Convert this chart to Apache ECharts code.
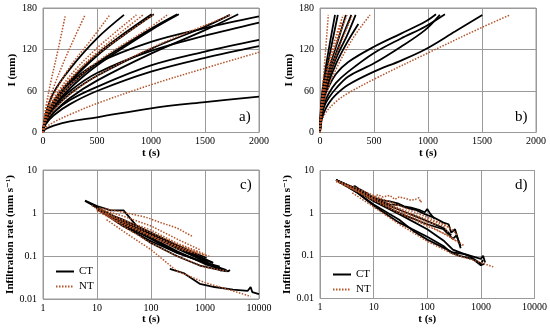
<!DOCTYPE html>
<html><head><meta charset="utf-8">
<script src="https://cdn.jsdelivr.net/npm/echarts@6/dist/echarts.min.js"></script>
<style>html,body{margin:0;padding:0;background:#fff}#c{width:550px;height:330px}</style>
</head><body><div id="c"></div>
<script>
// ---------- Tick labels ----------
const linTicksX = [0, 500, 1000, 1500, 2000];
const linTicksY = [0, 60, 120, 180];
const logTicksX = [1, 10, 100, 1000, 10000];
const logTicksY = [0.01, 0.1, 1, 10];
const legendNames = ['CT', 'NT'];
const panelLabels = ['a)', 'b)', 'c)', 'd)'];

// ---------- Panel a: cumulative infiltration I (mm) vs t (s) ----------
const aCT1 = [[0,0],[25,27],[100,58],[250,92],[500,136],[750,170]];
const aCT2 = [[0,0],[25,22],[100,46],[250,75],[500,113],[750,143],[1005,171]];
const aCT3 = [[0,0],[25,21],[100,45],[250,73],[500,111],[750,141],[1026,171]];
const aCT4 = [[0,0],[25,20],[100,41],[250,68],[500,100],[1000,150],[1243,171]];
const aCT5 = [[0,0],[25,18],[100,38],[250,64],[500,97],[1000,148],[1258,171]];
const aCT6 = [[0,0],[25,17],[100,34],[250,56],[500,82],[1000,121],[1500,153],[1731,170]];
const aCT7 = [[0,0],[25,14],[100,29],[250,50],[500,75],[1000,114],[1500,148],[1808,171]];
const aCT8 = [[0,0],[25,22],[100,45],[250,72],[500,100],[1000,131],[1500,151],[2000,168]];
const aCT9 = [[0,0],[25,18],[100,37],[250,60],[500,86],[1000,118],[1500,140],[2000,159]];
const aCT10 = [[0,0],[25,14],[100,29],[250,47],[500,66],[1000,97],[1500,117],[2000,134]];
const aCT11 = [[0,0],[25,12],[100,25],[250,41],[500,60],[1000,88],[1500,108],[2000,125]];
const aCT12 = [[0,0],[25,5],[100,10],[250,16],[500,22],[1000,35],[1500,44],[2000,52]];
const aNT1 = [[0,0],[10,20],[30,40],[75,75],[140,120],[205,168]];
const aNT2 = [[0,0],[10,18],[30,33],[100,66],[200,105],[300,140],[390,170]];
const aNT3 = [[0,0],[25,28],[100,55],[250,95],[450,135],[618,170]];
const aNT4 = [[0,0],[25,25],[100,49],[250,82],[500,122],[865,170]];
const aNT5 = [[0,0],[25,22],[100,44],[250,76],[500,116],[927,170]];
const aNT6 = [[0,0],[25,24],[100,47],[250,78],[500,113],[1020,170]];
const aNT7 = [[0,0],[25,20],[100,40],[250,68],[500,102],[1000,153],[1159,171]];
const aNT8 = [[0,0],[25,16],[100,32],[250,55],[500,82],[1000,122],[1500,155],[1744,170]];
const aNT9 = [[0,0],[25,7],[100,15],[250,26],[500,42],[1000,69],[1500,93],[2000,116]];

// ---------- Panel b ----------
const bCT1 = [[0,0],[15,30],[40,50],[80,66],[150,85],[262,102],[500,124],[750,143],[972,160],[1074,171]];
const bCT2 = [[0,0],[15,25],[40,42],[80,56],[150,72],[262,88],[500,115],[750,136],[972,153],[1157,171]];
const bCT3 = [[0,0],[15,22],[40,38],[80,50],[150,64],[262,81],[500,100],[750,124],[972,148],[1110,170]];
const bCT4 = [[0,0],[15,18],[40,30],[80,42],[150,55],[262,69],[500,88],[750,104],[972,120],[1250,146],[1503,170]];
const bCT5 = [[0,0],[10,40],[30,70],[70,110],[139,170]];
const bCT6 = [[0,0],[10,35],[30,62],[80,105],[165,170]];
const bCT7 = [[0,0],[10,30],[30,55],[80,90],[150,125],[240,170]];
const bCT8 = [[0,0],[10,28],[30,50],[80,82],[150,115],[290,170]];
const bCT9 = [[0,0],[10,27],[30,48],[80,78],[150,108],[250,140],[330,170]];
const bCT10 = [[0,0],[10,25],[30,45],[80,72],[150,100],[250,130],[355,157]];
const bNT1 = [[0,0],[15,15],[50,28],[150,45],[262,57],[500,77],[1000,115],[1500,152],[1760,170]];
const bNT2 = [[0,0],[5,25],[20,55],[45,105],[77,170]];
const bNT3 = [[0,0],[10,32],[30,60],[80,100],[150,140],[215,170]];
const bNT4 = [[0,0],[10,30],[30,55],[80,92],[150,128],[250,170]];
const bNT5 = [[0,0],[10,26],[30,48],[80,80],[150,112],[300,170]];
const bNT6 = [[0,0],[10,22],[30,40],[80,66],[150,92],[300,135],[463,170]];
const bNT7 = [[0,0],[10,34],[30,58],[80,95],[150,132],[200,160]];

// ---------- Panel c: infiltration rate (mm s-1) vs t (s), log-log ----------
const cCT1 = [[6,1.95],[10,1.45],[18,1.15],[31,1.15],[54,0.5],[100,0.33],[300,0.17],[1000,0.085],[1400,0.07]];
const cCT2 = [[6,1.9],[10,1.35],[30,0.65],[100,0.3],[300,0.15],[1000,0.075],[2030,0.045]];
const cCT3 = [[8,1.6],[10,1.3],[30,0.6],[100,0.27],[300,0.13],[1000,0.065],[2700,0.044],[2900,0.047]];
const cCT4 = [[10,1.3],[30,0.55],[100,0.25],[300,0.12],[1000,0.07],[1880,0.057]];
const cCT5 = [[10,1.25],[30,0.5],[100,0.22],[300,0.12],[1000,0.07],[2500,0.047]];
const cCT6 = [[12,1.1],[30,0.6],[100,0.32],[300,0.16],[1000,0.08],[1420,0.068]];
const cCT7 = [[10,1.2],[30,0.7],[100,0.35],[300,0.18],[1070,0.09]];
const cCT8 = [[223,0.05],[400,0.04],[800,0.0225],[1500,0.019],[3300,0.0165],[6200,0.0155],[7000,0.019],[7500,0.0145],[10000,0.013]];
const cCT9 = [[20,0.8],[100,0.2],[300,0.1],[800,0.06],[2500,0.044]];
const cNT1 = [[11,1.3],[20,1.15],[35,1.0],[80,0.8],[150,0.6],[300,0.45],[600,0.28]];
const cNT2 = [[12,1.2],[30,0.85],[100,0.5],[300,0.25],[800,0.14]];
const cNT3 = [[10,1.3],[30,0.7],[100,0.4],[300,0.2],[1000,0.11]];
const cNT4 = [[10,1.2],[30,0.65],[100,0.35],[300,0.19],[1100,0.1]];
const cNT5 = [[15,0.95],[30,0.6],[100,0.3],[300,0.17],[700,0.12]];
const cNT6 = [[10,1.1],[30,0.55],[100,0.28],[300,0.15],[600,0.12]];
const cNT7 = [[15,0.7],[40,0.3],[100,0.14],[300,0.045],[1000,0.024],[3000,0.016],[7000,0.0115]];
const cNT8 = [[8,1.5],[30,0.5],[100,0.2],[300,0.1],[1000,0.055],[2500,0.045]];
const cNT9 = [[20,0.7],[60,0.4],[200,0.2],[600,0.12],[1200,0.1]];

// ---------- Panel d ----------
const dCT1 = [[2,6],[3,4.8],[4,4.1],[4.5,4.3],[5.5,3.6],[7,3.1],[10,2.3],[15,2.0],[20,1.9],[28,1.7],[37,1.45],[50,1.35],[70,1.2],[90,1.05],[100,1.25],[115,0.95],[135,0.75]];
const dCT2 = [[2,6],[5,3.6],[10,2.2],[20,1.6],[30,1.55],[40,1.35],[60,1.2],[90,0.95],[130,0.8],[200,0.6],[250,0.55],[280,0.35],[330,0.42],[420,0.15]];
const dCT3 = [[2,6],[5,3.3],[10,1.9],[30,0.95],[100,0.42],[200,0.23],[300,0.14],[600,0.1],[1000,0.065],[1100,0.08]];
const dCT4 = [[2,6],[5,3],[10,1.6],[30,0.7],[57,0.37],[100,0.24],[191,0.16],[300,0.12],[500,0.11],[1000,0.085],[1100,0.1],[1200,0.07]];
const dCT5 = [[2,6],[5,3],[10,1.5],[30,0.6],[100,0.28],[200,0.17],[275,0.12],[400,0.1],[700,0.085],[1000,0.06],[1150,0.065]];
const dCT6 = [[2,6],[5,3.4],[10,2],[30,1.0],[100,0.55],[200,0.42],[300,0.25],[350,0.3],[420,0.17]];
const dCT7 = [[3,4.5],[10,2.1],[30,1.2],[100,0.65],[200,0.45],[280,0.3]];
const dNT1 = [[8,2.1],[12,2.7],[15,2.4],[20,2.6],[25,2.1],[30,2.4],[40,2.2],[50,2.0],[60,2.1],[70,2.3],[75,1.8],[80,2.0]];
const dNT2 = [[2,5.8],[5,3.8],[10,2.6],[30,1.5],[100,0.8],[200,0.55],[270,0.45]];
const dNT3 = [[2,5.8],[5,3.5],[10,2.4],[30,1.3],[100,0.7],[200,0.55],[300,0.4],[370,0.3]];
const dNT4 = [[2,5.5],[5,3.2],[10,2.1],[30,1.1],[100,0.55],[300,0.25],[500,0.17]];
const dNT5 = [[4,3],[10,1.4],[30,0.55],[100,0.22],[300,0.11],[1000,0.07],[1700,0.055]];
const dNT6 = [[3,4.5],[10,2.0],[30,1.0],[100,0.5],[250,0.3],[350,0.22]];
const dNT7 = [[2,5.8],[10,2.2],[30,1.2],[100,0.62],[200,0.5],[250,0.35]];

const panels = [
  {ct:[aCT1,aCT2,aCT3,aCT4,aCT5,aCT6,aCT7,aCT8,aCT9,aCT10,aCT11,aCT12], nt:[aNT1,aNT2,aNT3,aNT4,aNT5,aNT6,aNT7,aNT8,aNT9], smooth:true},
  {ct:[bCT1,bCT2,bCT3,bCT4,bCT5,bCT6,bCT7,bCT8,bCT9,bCT10], nt:[bNT1,bNT2,bNT3,bNT4,bNT5,bNT6,bNT7], smooth:true},
  {ct:[cCT1,cCT2,cCT3,cCT4,cCT5,cCT6,cCT7,cCT8,cCT9], nt:[cNT1,cNT2,cNT3,cNT4,cNT5,cNT6,cNT7,cNT8,cNT9], smooth:false},
  {ct:[dCT1,dCT2,dCT3,dCT4,dCT5,dCT6,dCT7], nt:[dNT1,dNT2,dNT3,dNT4,dNT5,dNT6,dNT7], smooth:false}
];

const FONT = '"Liberation Serif", "DejaVu Serif", serif';
const GRIDC = '#9a9a9a';
const CT_COLOR = '#000000';
const NT_COLOR = '#b4542a';
const fmt = v => String(+Number(v).toPrecision(6));

const grids = [
  {left:43, top:8, width:216, height:124.5},
  {left:320, top:8, width:216, height:124.5},
  {left:43, top:170, width:216, height:129},
  {left:320, top:170.5, width:216, height:128}
].map(g => Object.assign(g, {show:true, borderColor:GRIDC, borderWidth:1, containLabel:false}));

function xAx(i){
  const log = i >= 2;
  return {
    type: log ? 'log' : 'value', logBase: 10, gridIndex: i,
    min: log ? logTicksX[0] : linTicksX[0], max: log ? logTicksX[logTicksX.length-1] : linTicksX[linTicksX.length-1],
    interval: log ? undefined : 500,
    name: 't (s)', nameLocation: 'middle', nameGap: 15,
    nameTextStyle: {fontFamily: FONT, fontWeight: 'bold', fontSize: 11, color: '#000'},
    axisLine: {show:false}, axisTick: {show:false},
    axisLabel: {fontFamily: FONT, fontSize: 10, color: '#000', margin: 4, formatter: fmt},
    splitLine: {show:true, lineStyle:{color:GRIDC, width:1}}
  };
}
function yAx(i){
  const log = i >= 2;
  return {
    type: log ? 'log' : 'value', logBase: 10, gridIndex: i,
    min: log ? logTicksY[0] : linTicksY[0], max: log ? logTicksY[logTicksY.length-1] : linTicksY[linTicksY.length-1],
    interval: log ? undefined : 60,
    name: log ? 'Infiltration rate (mm s\u207B\u00B9)' : 'I (mm)', nameLocation: 'middle', nameGap: log ? 25 : 22,
    nameTextStyle: {fontFamily: FONT, fontWeight: 'bold', fontSize: 11, color: '#000'},
    axisLine: {show:false}, axisTick: {show:false},
    axisLabel: {fontFamily: FONT, fontSize: 10, color: '#000', margin: 6, formatter: fmt},
    splitLine: {show:true, lineStyle:{color:GRIDC, width:1}}
  };
}

const series = [];
panels.forEach((p, i) => {
  p.ct.forEach(d => series.push({
    type:'line', name:'CT', xAxisIndex:i, yAxisIndex:i, data:d, symbol:'none', smooth: p.smooth ? 0.35 : false,
    lineStyle:{color:CT_COLOR, width:1.8}, itemStyle:{color:CT_COLOR}, z:2
  }));
  p.nt.forEach(d => series.push({
    type:'line', name:'NT', xAxisIndex:i, yAxisIndex:i, data:d, symbol:'none', smooth: p.smooth ? 0.35 : false,
    lineStyle:{color:NT_COLOR, width:1.5, type:[1.5,1.5]}, itemStyle:{color:NT_COLOR}, z:3
  }));
});

const legendBase = {orient:'vertical', data:legendNames, itemWidth:18, itemHeight:10, itemGap:4,
  textStyle:{fontFamily:FONT, fontSize:11, color:'#000'}, selectedMode:false,
  itemStyle:{opacity:0}};
const labelPos = [[239,110],[515,110],[240,178],[515,178]];
const chart = echarts.init(document.getElementById('c'), null, {renderer:'canvas'});
chart.setOption({
  animation:false,
  grid: grids,
  xAxis: [0,1,2,3].map(xAx),
  yAxis: [0,1,2,3].map(yAx),
  legend: [
    Object.assign({left:50, top:261}, legendBase),
    Object.assign({left:327, top:264}, legendBase)
  ],
  graphic: panelLabels.map((t, k) => ({type:'text', left:labelPos[k][0], top:labelPos[k][1],
    style:{text:t, font:'15px ' + FONT, fill:'#000'}})),
  series: series
});
</script></body></html>
